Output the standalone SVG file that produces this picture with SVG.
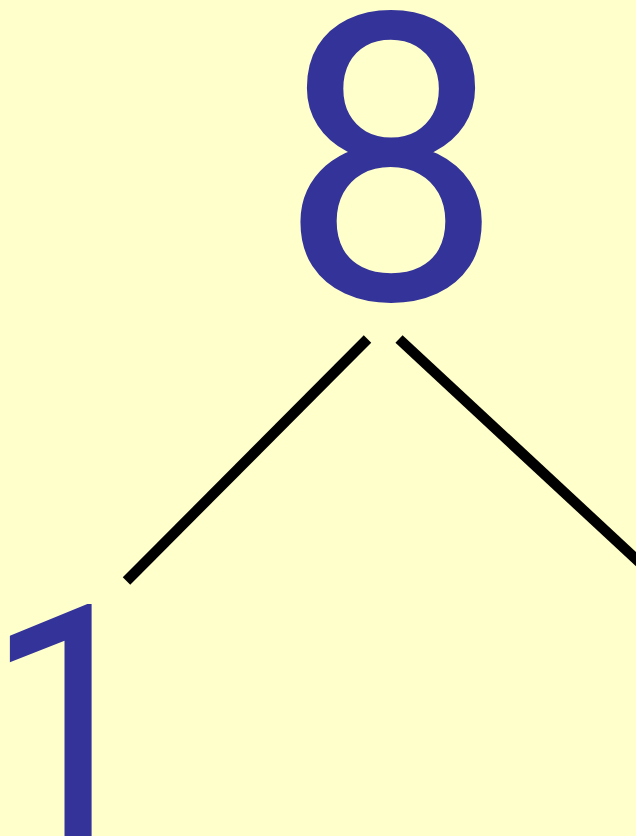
<svg xmlns="http://www.w3.org/2000/svg" width="636" height="836" viewBox="0 0 636 836">
<style>
.lbl{fill:#333399;font-family:Roboto,"Noto Sans",sans-serif;}
.edge{stroke:#000;stroke-width:10.5;fill:none;stroke-linecap:butt;}
</style>
<rect width="636" height="836" fill="#FFFFCC"/>
<g id="connectors">
<line class="edge" x1="367.5" y1="339" x2="126.5" y2="581"/>
<line class="edge" x1="399" y1="339" x2="680" y2="600"/>
</g>
<g id="node-8"><text class="lbl" x="391" y="299" font-size="401" text-anchor="middle">8</text></g>
<g id="node-1"><text class="lbl" x="-25" y="837" font-size="326" transform="translate(98,0) scale(0.92,1) translate(-98,0)">1</text></g>
</svg>
